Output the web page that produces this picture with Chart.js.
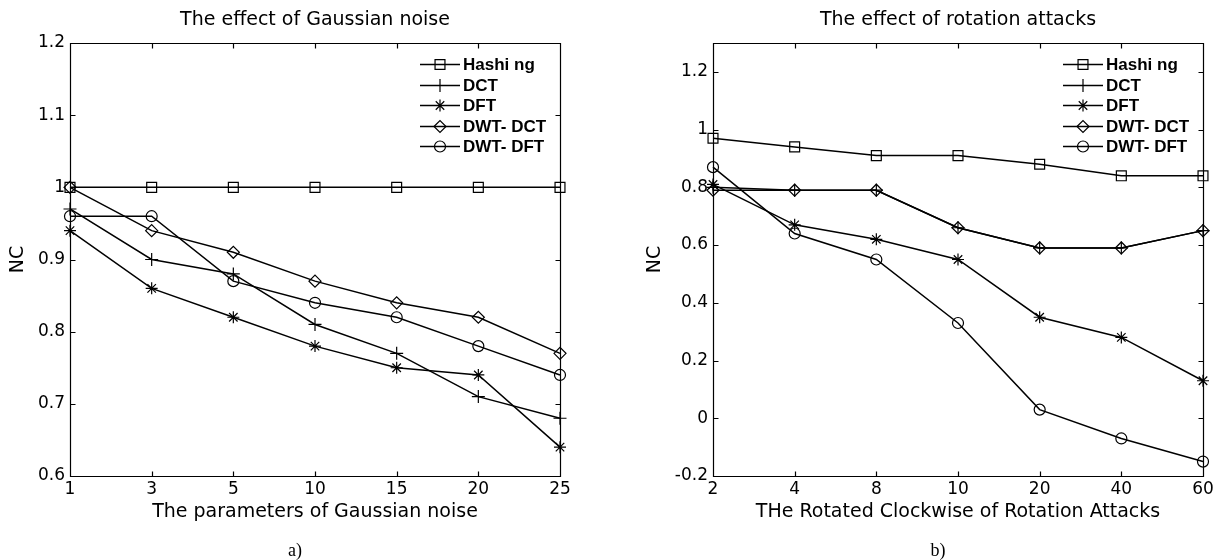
<!DOCTYPE html>
<html>
<head>
<meta charset="utf-8">
<script src="https://cdn.jsdelivr.net/npm/chart.js@4.4.0/dist/chart.umd.min.js"></script>
<style>
  html, body { margin: 0; padding: 0; background: #fff; }
  #wrap { position: relative; width: 1215px; height: 560px; overflow: hidden; }
  canvas { position: absolute; left: 0; top: 0; }
  .cap { position: absolute; top: 540px; line-height: 20px; font-family: "Liberation Serif", serif; font-size: 18px; color: #000; transform: translateX(-50%); }
</style>
</head>
<body>
<div id="wrap">
  <canvas id="gauss" width="1215" height="560"></canvas>
  <canvas id="rot" width="1215" height="560"></canvas>
  <div class="cap" style="left:295px">a)</div>
  <div class="cap" style="left:938px">b)</div>
</div>
<script>
// series order and marker per method
const seriesNames = ["Hashi ng", "DCT", "DFT", "DWT- DCT", "DWT- DFT"];
const markerStyles = ["rect", "cross", "star", "rectRot", "circle"];
const markerSizes = [7, 6.5, 6, 6, 5.5];

// a) Gaussian noise
const gaussLevels = ["1", "3", "5", "10", "15", "20", "25"];
const gaussHashing = [1, 1, 1, 1, 1, 1, 1];
const gaussDCT = [0.97, 0.90, 0.88, 0.81, 0.77, 0.71, 0.68];
const gaussDFT = [0.94, 0.86, 0.82, 0.78, 0.75, 0.74, 0.64];
const gaussDwtDCT = [1.00, 0.94, 0.91, 0.87, 0.84, 0.82, 0.77];
const gaussDwtDFT = [0.96, 0.96, 0.87, 0.84, 0.82, 0.78, 0.74];

// b) rotation attacks
const rotAngles = ["2", "4", "8", "10", "20", "40", "60"];
const rotHashing = [0.97, 0.94, 0.91, 0.91, 0.88, 0.84, 0.84];
const rotDCT = [0.80, 0.79, 0.79, 0.66, 0.59, 0.59, 0.65];
const rotDFT = [0.81, 0.67, 0.62, 0.55, 0.35, 0.28, 0.13];
const rotDwtDCT = [0.79, 0.79, 0.79, 0.66, 0.59, 0.59, 0.65];
const rotDwtDFT = [0.87, 0.64, 0.55, 0.33, 0.03, -0.07, -0.15];

const textFont = "'DejaVu Sans', sans-serif";

// box with inward ticks on all sides + matlab style legend
const frameAndLegend = {
  id: "frameAndLegend",
  afterDraw(chart) {
    const { ctx, chartArea: a, scales } = chart;
    const L = Math.round(a.left) + 0.5, R = Math.round(a.right) + 0.5;
    const T = Math.round(a.top) + 0.5, B = Math.round(a.bottom) + 0.5;
    const tl = 5;
    ctx.save();
    ctx.strokeStyle = "#000";
    ctx.lineWidth = 1.2;
    ctx.beginPath();
    ctx.rect(L, T, R - L, B - T);
    scales.x.ticks.forEach((t, i) => {
      const px = Math.round(scales.x.getPixelForTick(i)) + 0.5;
      ctx.moveTo(px, B); ctx.lineTo(px, B - tl);
      ctx.moveTo(px, T); ctx.lineTo(px, T + tl);
    });
    scales.y.ticks.forEach((t) => {
      const py = Math.round(scales.y.getPixelForValue(t.value)) + 0.5;
      ctx.moveTo(L, py); ctx.lineTo(L + tl, py);
      ctx.moveTo(R, py); ctx.lineTo(R - tl, py);
    });
    ctx.stroke();

    const x0 = a.right - 140, y0 = a.top + 21, dy = 20.5;
    ctx.font = "bold 17px 'Liberation Sans', Arial, sans-serif";
    ctx.textBaseline = "middle";
    chart.data.datasets.forEach((ds, i) => {
      const y = Math.round(y0 + i * dy) + 0.5;
      ctx.strokeStyle = "#000";
      ctx.lineWidth = 1.5;
      ctx.beginPath(); ctx.moveTo(x0, y); ctx.lineTo(x0 + 40, y); ctx.stroke();
      ctx.lineWidth = 1.2;
      ctx.fillStyle = "rgba(0,0,0,0)";
      Chart.helpers.drawPoint(ctx, { pointStyle: ds.pointStyle, radius: ds.pointRadius, borderWidth: 1.2, rotation: 0 }, x0 + 20, y);
      ctx.fillStyle = "#000";
      ctx.fillText(ds.label, x0 + 43, y + 1);
    });
    ctx.restore();
  }
};

function makeSets(values) {
  return values.map((vals, i) => ({
    label: seriesNames[i],
    data: vals,
    borderColor: "#000",
    borderWidth: 1.5,
    pointStyle: markerStyles[i],
    pointRadius: markerSizes[i],
    pointBorderColor: "#000",
    pointBackgroundColor: "rgba(0,0,0,0)",
    pointBorderWidth: 1.2,
    tension: 0,
    clip: false
  }));
}

function makeChart(id, cfg) {
  return new Chart(document.getElementById(id), {
    type: "line",
    data: { labels: cfg.labels, datasets: makeSets(cfg.series) },
    options: {
      responsive: false,
      animation: false,
      events: [],
      layout: { padding: cfg.padding },
      plugins: {
        legend: { display: false },
        tooltip: { enabled: false },
        title: {
          display: true,
          text: cfg.title,
          fullSize: false,
          color: "#000",
          font: { family: textFont, size: 19, weight: "normal" },
          padding: { top: 8.6, bottom: 11.6 }
        }
      },
      scales: {
        x: {
          type: "category",
          offset: false,
          grid: { display: false, drawTicks: false },
          border: { display: false },
          ticks: { color: "#000", font: { family: textFont, size: 17 }, padding: 3, maxRotation: 0, autoSkip: false },
          title: { display: true, text: cfg.xTitle, color: "#000", font: { family: textFont, size: 19 }, padding: { top: 0, bottom: 0 } },
          afterFit(s) { s.height = 47.4; s.paddingLeft = 0; s.paddingRight = 0; }
        },
        y: {
          min: cfg.yMin,
          max: cfg.yMax,
          grid: { display: false, drawTicks: false },
          border: { display: false },
          ticks: {
            stepSize: cfg.yStep,
            includeBounds: false,
            color: "#000",
            font: { family: textFont, size: 17 },
            padding: 5,
            callback: (v) => String(+Number(v).toFixed(2))
          },
          title: { display: true, text: "NC", color: "#000", font: { family: textFont, size: 19 }, padding: { top: cfg.ncPad, bottom: 0 } },
          afterFit(s) { s.width = 70; s.paddingTop = 0; s.paddingBottom = 0; }
        }
      }
    },
    plugins: [frameAndLegend]
  });
}

makeChart("gauss", {
  labels: gaussLevels,
  series: [gaussHashing, gaussDCT, gaussDFT, gaussDwtDCT, gaussDwtDFT],
  title: "The effect of Gaussian noise",
  xTitle: "The parameters of Gaussian noise",
  yMin: 0.6, yMax: 1.2, yStep: 0.1,
  ncPad: 6.6,
  padding: { left: 0, right: 655, top: 0, bottom: 36.6 }
});

makeChart("rot", {
  labels: rotAngles,
  series: [rotHashing, rotDCT, rotDFT, rotDwtDCT, rotDwtDFT],
  title: "The effect of rotation attacks",
  xTitle: "THe Rotated Clockwise of Rotation Attacks",
  yMin: -0.2, yMax: 1.3, yStep: 0.2,
  ncPad: 0.6,
  padding: { left: 643, right: 12, top: 0, bottom: 36.6 }
});
</script>
</body>
</html>
